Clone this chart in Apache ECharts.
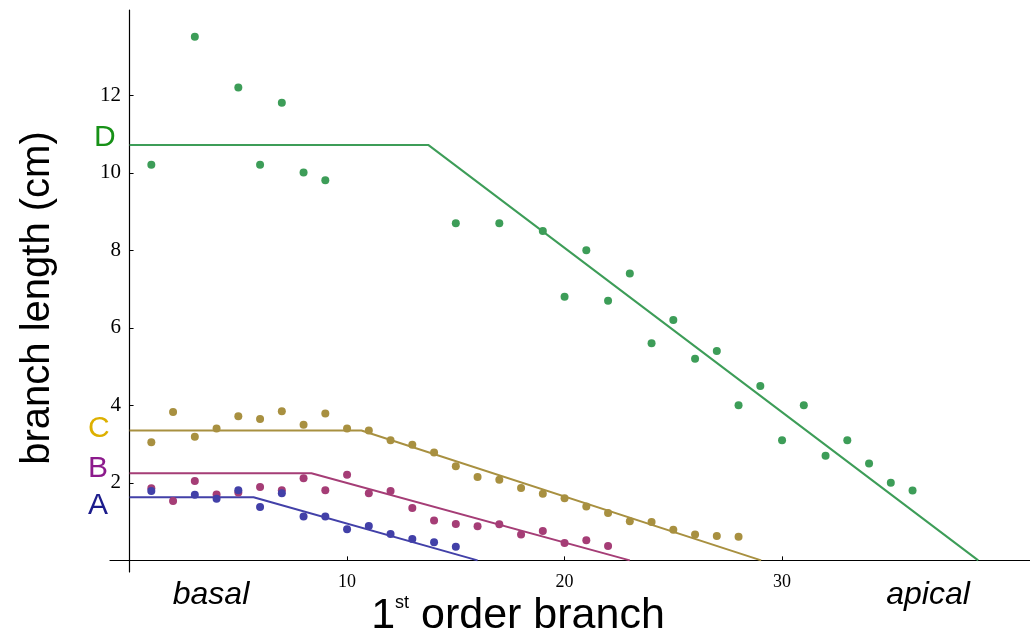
<!DOCTYPE html>
<html>
<head>
<meta charset="utf-8">
<script src="https://cdn.jsdelivr.net/npm/echarts@6/dist/echarts.min.js"></script>
<style>
  html, body { margin: 0; padding: 0; background: #fff; }
  #chart { width: 1030px; height: 637px; }
</style>
</head>
<body>
<div id="chart"></div>
<script>
// Branch length (cm) of each 1st-order branch, basal to apical, for four plants A–D
const groupA = [[1,1.79],[3,1.69],[4,1.59],[5,1.81],[6,1.38],[7,1.73],[8,1.13],[9,1.13],[10,0.80],[11,0.89],[12,0.68],[13,0.55],[14,0.47],[15,0.35]];
const groupB = [[1,1.86],[2,1.53],[3,2.05],[4,1.70],[5,1.75],[6,1.89],[7,1.81],[8,2.12],[9,1.81],[10,2.21],[11,1.73],[12,1.79],[13,1.35],[14,1.03],[15,0.94],[16,0.88],[17,0.93],[18,0.67],[19,0.76],[20,0.45],[21,0.52],[22,0.37]];
const groupC = [[1,3.05],[2,3.83],[3,3.19],[4,3.40],[5,3.72],[6,3.65],[7,3.85],[8,3.50],[9,3.79],[10,3.40],[11,3.35],[12,3.10],[13,2.98],[14,2.78],[15,2.43],[16,2.15],[17,2.08],[18,1.87],[19,1.72],[20,1.60],[21,1.39],[22,1.22],[23,1.01],[24,0.99],[25,0.79],[26,0.67],[27,0.63],[28,0.61]];
const groupD = [[1,10.21],[3,13.51],[5,12.20],[6,10.21],[7,11.81],[8,10.01],[9,9.81],[15,8.70],[17,8.70],[19,8.50],[20,6.80],[21,8.00],[22,6.70],[23,7.40],[24,5.60],[25,6.20],[26,5.20],[27,5.40],[28,4.00],[29,4.50],[30,3.10],[31,4.00],[32,2.70],[33,3.10],[34,2.50],[35,2.00],[36,1.80]];

// Fitted plateau-then-decline (broken-stick) lines
const fitA = [[0,1.63],[5.7,1.63],[16.0,0]];
const fitB = [[0,2.25],[8.36,2.25],[23.0,0]];
const fitC = [[0,3.35],[10.66,3.35],[29.04,0]];
const fitD = [[0,10.72],[13.73,10.72],[39.02,0]];

const xTicks = [10, 20, 30];
const yTicks = [2, 4, 6, 8, 10, 12];

const colA = '#4240a8', colB = '#a53d76', colC = '#a89040', colD = '#3d9d58';

const chart = echarts.init(document.getElementById('chart'), null, { renderer: 'canvas' });

function dots(name, data, color) {
  return { name, type: 'scatter', data, symbol: 'circle', symbolSize: 8,
           itemStyle: { color, opacity: 1 }, z: 3, animation: false };
}
function fit(name, data, color) {
  return { name, type: 'line', data, symbol: 'none', lineStyle: { color, width: 2 },
           z: 2, animation: false };
}

const letter = (text, x, y, color) => ({
  type: 'text', left: x, top: y,
  style: { text, fill: color, font: '30px "Liberation Sans", Arial, sans-serif' }
});

chart.setOption({
  backgroundColor: '#ffffff',
  animation: false,
  grid: { left: 110, right: 0, top: 10, height: 562, containLabel: false },
  xAxis: {
    type: 'value', min: -0.9, max: 41.4,
    splitLine: { show: false },
    axisLine: { onZero: true, lineStyle: { color: '#000', width: 1.2 } },
    axisTick: { customValues: xTicks, inside: true, length: 4, lineStyle: { color: '#000' } },
    axisLabel: { customValues: xTicks, margin: 1, color: '#000',
                 fontFamily: '"Liberation Serif", "Times New Roman", serif', fontSize: 18 }
  },
  yAxis: {
    type: 'value', min: -0.3, max: 14.2,
    splitLine: { show: false },
    axisLine: { onZero: true, lineStyle: { color: '#000', width: 1.2 } },
    axisTick: { customValues: yTicks, inside: true, length: 4, lineStyle: { color: '#000' } },
    axisLabel: { customValues: yTicks, margin: -11, color: '#000',
                 fontFamily: '"Liberation Serif", "Times New Roman", serif', fontSize: 21 }
  },
  series: [
    fit('fit D', fitD, colD), fit('fit C', fitC, colC), fit('fit B', fitB, colB), fit('fit A', fitA, colA),
    dots('D', groupD, colD), dots('C', groupC, colC), dots('B', groupB, colB), dots('A', groupA, colA)
  ],
  graphic: [
    letter('D', 94, 123, '#179117'),
    letter('C', 88, 414, '#ddb000'),
    letter('B', 88, 454, '#8c1a8c'),
    letter('A', 88, 491, '#1c1c8c'),
    {
      type: 'text', x: 38, y: 298, rotation: Math.PI / 2,
      style: { text: 'branch length (cm)', fill: '#000', align: 'center', verticalAlign: 'middle',
               font: '40px "Liberation Sans", Arial, sans-serif' }
    },
    {
      type: 'text', x: 211, y: 595,
      style: { text: 'basal', fill: '#000', align: 'center', verticalAlign: 'middle',
               font: 'italic 32px "Liberation Sans", Arial, sans-serif' }
    },
    {
      type: 'text', x: 928, y: 595,
      style: { text: 'apical', fill: '#000', align: 'center', verticalAlign: 'middle',
               font: 'italic 32px "Liberation Sans", Arial, sans-serif' }
    },
    {
      type: 'text', x: 518, y: 616,
      style: {
        text: '{n|1}{s|st}{n| order branch}', fill: '#000', align: 'center', verticalAlign: 'middle',
        rich: {
          n: { fontFamily: '"Liberation Sans", Arial, sans-serif', fontSize: 43, fill: '#000' },
          s: { fontFamily: '"Liberation Sans", Arial, sans-serif', fontSize: 18, fill: '#000',
               verticalAlign: 'top', padding: [0, 0, 20, 0] }
        }
      }
    }
  ]
});
</script>
</body>
</html>
